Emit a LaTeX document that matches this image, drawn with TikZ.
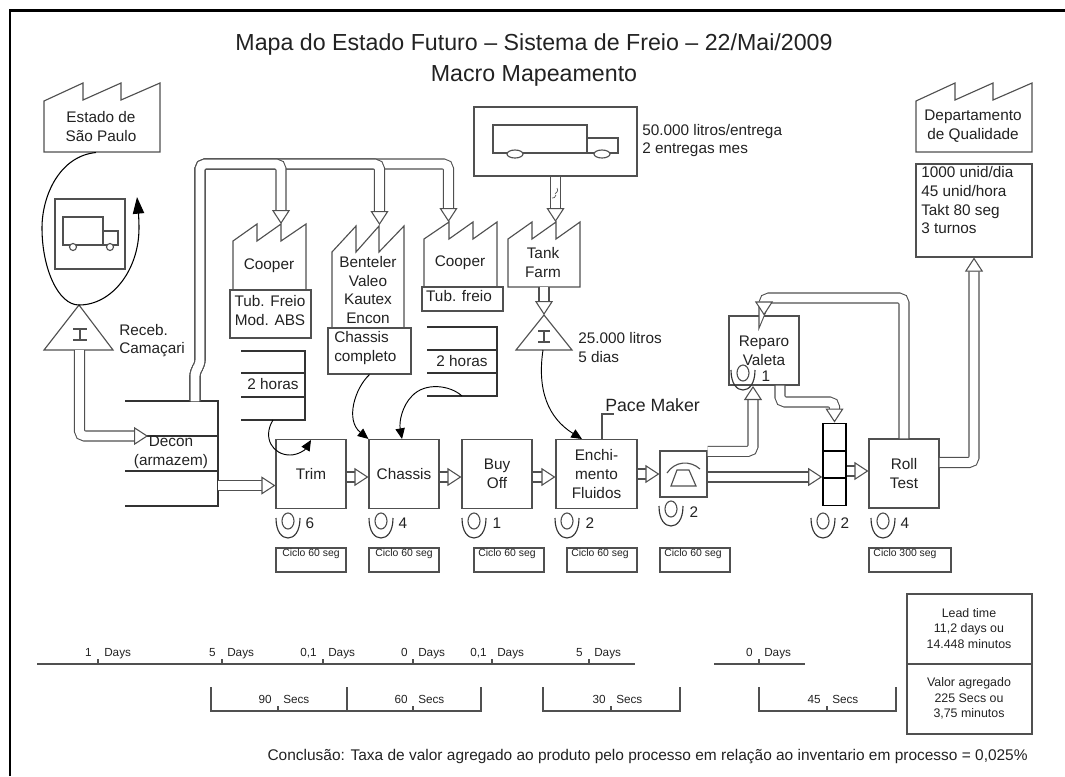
\documentclass[tikz,border=0pt]{standalone}
\usepackage{fontspec}
\setmainfont{Liberation Sans}
\usetikzlibrary{arrows.meta, calc}
\definecolor{linecol}{HTML}{505050}
\definecolor{textcol}{HTML}{222222}
\tikzset{
    shape line/.style={draw=linecol, line width=0.85pt},
    plant/.style={shape line, fill=white},
    label text/.style={font=\fontsize{11.5}{14}\selectfont, text=textcol, align=center, inner sep=0pt},
    left text/.style={label text, align=left},
    procbox/.style={shape line, fill=white, label text, minimum height=51.75pt},
    ciclobox/.style={shape line, fill=white, minimum height=18pt, inner sep=0pt},
    ciclotext/.style={font=\fontsize{7.8}{9}\selectfont, text=textcol, inner sep=0pt},
    timetext/.style={font=\fontsize{8.8}{11}\selectfont, text=textcol, inner sep=0pt},
    sumtext/.style={font=\fontsize{9.3}{11.6}\selectfont, text=textcol, inner sep=0pt, align=center},
    stock/.style={draw=black!80, line width=1.1pt},
    timeline/.style={draw=linecol, line width=0.8pt},
    pushline/.style={draw=linecol, line width=0.8pt, double=white, double distance=6.7pt, rounded corners=3.75pt},
    pushhead/.style={pushline, -{Triangle[open, fill=white, length=10.5pt, width=13.5pt]}},
    infoflow/.style={draw=black, line width=0.7pt, -{Triangle[length=8pt, width=7pt]}},
    operator/.pic={
        \draw[shape line] (0,-1) ellipse [x radius=6, y radius=8];
        \draw[shape line, draw=black!80] (-12,-4) .. controls (-12,10) and (-6,16) .. (0,16) .. controls (6,16) and (12,10) .. (12,-4);
    }
}
\begin{document}
\begin{tikzpicture}[x=0.75pt, y=-0.75pt]
    \useasboundingbox (0,0) rectangle (1065,776);
    \draw[black, line width=2.2pt] (10,776) -- (10,10.5) -- (1065,10.5);

    \node[font=\fontsize{17.4}{23}\selectfont, text=textcol, align=center, inner sep=0pt] (title) at (534,60) {Mapa do Estado Futuro – Sistema de Freio – 22/Mai/2009\\Macro Mapeamento};

    % fabricas
    \draw[plant] (44,152) -- (44,101) -- (83,83) -- (83,100) -- (121,83) -- (121,100) -- (160,83) -- (160,152) -- cycle;
    \node[label text] (saopaulo) at (101,126.5) {Estado de\\São Paulo};
    \draw[plant] (233,290) -- (233,241) -- (257,224) -- (257,241) -- (281,224) -- (281,241) -- (306,224) -- (306,290) -- cycle;
    \node[label text] (cooperA) at (269,266) {Cooper};
    \draw[plant] (332,328) -- (332,252) -- (356,226) -- (356,252) -- (379,226) -- (379,252) -- (404,226) -- (404,328) -- cycle;
    \node[label text] (benteler) at (368,290) {Benteler\\Valeo\\Kautex\\Encon};
    \draw[plant] (424,287) -- (424,239) -- (449,222) -- (449,239) -- (473,222) -- (473,239) -- (497,222) -- (497,287) -- cycle;
    \node[label text] (cooperB) at (460,263) {Cooper};
    \draw[plant] (508,287) -- (508,239) -- (532,222) -- (532,239) -- (556,222) -- (556,239) -- (580,222) -- (580,287) -- cycle;
    \node[label text] (tankfarm) at (543,262.5) {Tank\\Farm};
    \draw[plant] (916,152) -- (916,101) -- (955,83) -- (955,100) -- (993,83) -- (993,100) -- (1032,83) -- (1032,152) -- cycle;
    \node[label text] (qualidade) at (973,126.5) {Departamento\\de Qualidade};

    % caixas de dados
    \node[shape line, fill=white, minimum width=60.75pt, minimum height=36pt, inner sep=0pt] (tubfreio) at (270.5,314) {};
    \node[label text] (tubfreiotext) at (270,310.5) {Tub. Freio\\Mod. ABS};
    \node[shape line, fill=white, minimum width=60.75pt, minimum height=18pt, inner sep=0pt] (tubfreiob) at (462.5,299) {};
    \node[label text] (tubfreiobtext) at (459,296) {Tub. freio};
    \node[shape line, fill=white, minimum width=62.25pt, minimum height=34.5pt, inner sep=0pt] (chassiscomp) at (369.5,351) {};
    \node[left text, anchor=west] (chassiscomptext) at (334,348) {Chassis\\completo};
    \node[shape line, fill=white, minimum width=87pt, minimum height=69.75pt, inner sep=0pt] (infobox) at (974,210.5) {};
    \node[left text, anchor=north west] (infotext) at (921,166.5) {1000 unid/dia\\45 unid/hora\\Takt 80 seg\\3 turnos};
    \node[shape line, fill=white, minimum width=93.75pt, minimum height=52.5pt, inner sep=0pt] (leadbox) at (969.5,629) {};
    \node[shape line, fill=white, minimum width=93.75pt, minimum height=52.5pt, inner sep=0pt] (valuebox) at (969.5,699) {};
    \node[sumtext] (leadtext) at (969,628.5) {Lead time\\11,2 days ou\\14.448 minutos};
    \node[sumtext] (valuetext) at (969,698.5) {Valor agregado\\225 Secs ou\\3,75 minutos};

    % caminhoes
    \node[shape line, minimum width=52.5pt, minimum height=52.5pt, inner sep=0pt] (truckboxA) at (90,234) {};
    \draw[shape line] (63,217) rectangle (103,245);
    \draw[shape line] (103,231) rectangle (118,245);
    \draw[shape line, fill=white] (73,247) circle [radius=3.5];
    \draw[shape line, fill=white] (110,247) circle [radius=3.5];
    \node[shape line, minimum width=122.25pt, minimum height=51.75pt, inner sep=0pt] (truckboxB) at (555.5,141.5) {};
    \draw[shape line] (493,125) rectangle (587,153);
    \draw[shape line] (587,138) rectangle (618,153);
    \draw[shape line, fill=white] (515,154) ellipse [x radius=8, y radius=4];
    \draw[shape line, fill=white] (602,154) ellipse [x radius=8, y radius=4];
    \node[left text, anchor=west] (entregatext) at (642,140.5) {50.000 litros/entrega\\2 entregas mes};

    % estoques
    \draw[shape line] (44,350) -- (79,305) -- (113,350) -- cycle;
    \draw[shape line] (73,329) -- (87,329) (80,329) -- (80,340) (73,340) -- (87,340);
    \node[left text, anchor=west] (receb) at (119,340.5) {Receb.\\Camaçari};
    \draw[shape line] (516,350) -- (544,315) -- (572,350) -- cycle;
    \draw[shape line] (538,331) -- (550,331) (544,331) -- (544,342) (538,342) -- (550,342);
    \node[left text, anchor=west] (litros) at (578,347.5) {25.000 litros\\5 dias};
    \coordinate (spbase) at (96,152.5);
    \coordinate (recebtop) at (79,305);
    \coordinate (recebbase) at (79.5,350);
    \coordinate (tankbase) at (543,350);

    \draw[stock] (125,401) -- (218,401) -- (218,506) -- (125,506);
    \draw[stock] (125,436) -- (218,436) (125,471) -- (218,471);
    \node[label text] (decon) at (171,452.5) {Decon\\(armazem)};
    \draw[stock] (241,351) -- (305,351) -- (305,420) -- (241,420);
    \draw[stock] (241,373) -- (305,373) (241,397) -- (305,397);
    \node[label text] (horasA) at (273,384) {2 horas};
    \draw[stock] (427,327) -- (497,327) -- (497,396) -- (427,396);
    \draw[stock] (427,350) -- (497,350) (427,373) -- (497,373);
    \node[label text] (horasB) at (462,361) {2 horas};
    \coordinate (horasAbase) at (273,420);
    \coordinate (horasBbase) at (462,396);
    \coordinate (deconin) at (148,436);
    \coordinate (decontop) at (195,401);
    \coordinate (deconout) at (218,485.5);

    % processos
    \node[procbox, minimum width=52.5pt] (trim) at (311,474) {Trim};
    \node[procbox, minimum width=52.5pt] (chassis) at (404,474) {Chassis};
    \node[procbox, minimum width=52.5pt] (buyoff) at (497,474) {Buy\\Off};
    \node[procbox, minimum width=60.75pt] (enchimento) at (596.5,474) {Enchi-\\mento\\Fluidos};
    \node[shape line, fill=white, minimum width=35.25pt, minimum height=34.5pt, inner sep=0pt] (phone) at (683.5,474) {};
    \draw[shape line] (667,473) .. controls (675,461) and (690,460) .. (700,469);
    \draw[shape line] (671,486) -- (677,470) -- (689,470) -- (696,486) -- cycle;
    \node[procbox, minimum width=52.5pt] (reparo) at (764,350.5) {Reparo\\Valeta};
    \node[procbox, minimum width=52.5pt] (rolltest) at (904,473.5) {Roll\\Test};
    \node[shape line, draw=black, line width=1.2pt, minimum width=17.25pt, minimum height=20.5pt, inner sep=0pt] (kanbanA) at (834.5,437) {};
    \node[shape line, draw=black, line width=1.2pt, minimum width=17.25pt, minimum height=20.5pt, inner sep=0pt] (kanbanB) at (834.5,464.5) {};
    \node[shape line, draw=black, line width=1.2pt, minimum width=17.25pt, minimum height=20.5pt, inner sep=0pt] (kanbanC) at (834.5,492) {};

    % fluxo empurrado
    \draw[pushhead] (recebbase) |- (deconin);
    \draw[pushhead] (decontop) -- (195,371) -- (200,365) |- (448.5,164) -- (448.5,222);
    \draw[pushhead] (decontop) -- (195,371) -- (200,365) |- (379.5,164) -- (379.5,225);
    \draw[pushhead] (decontop) -- (195,371) -- (200,365) |- (281,164) -- (281,224);
    \draw[pushhead] (deconout) -- (trim.west |- deconout);
    \draw[pushhead] ([yshift=-2.25pt]trim.east) -- ([yshift=-2.25pt]chassis.west);
    \draw[pushhead] ([yshift=-2.25pt]chassis.east) -- ([yshift=-2.25pt]buyoff.west);
    \draw[pushhead] ([yshift=-2.25pt]buyoff.east) -- ([yshift=-2.25pt]enchimento.west);
    \draw[pushhead] (enchimento.east) -- (phone.west);
    \draw[pushhead] ([yshift=-2.25pt]phone.east) -- ([yshift=-2.25pt]phone.east -| kanbanB.west);
    \draw[pushhead] ([yshift=17pt]phone.east) -| (753,386);
    \draw[pushhead] ([xshift=12pt]reparo.south) |- (834.5,402) -- (kanbanA.north);
    \draw[pushhead] (kanbanB.east |- 850,471) -- (rolltest.west |- 850,471);
    \draw[pushhead] (rolltest.north) |- (764,298) -- (reparo.north);
    \draw[pushhead] ([yshift=8.25pt]rolltest.east) -| (infobox.south);
    \draw[pushhead] (truckboxB.south) -- (555.5,222);
    \draw[shape line, line width=0.5pt] (557,188) .. controls (559,192) and (556,192) .. (555,194) (556,195) .. controls (555,198) and (554,198) .. (552,198);
    \draw[pushhead] (544,287) -- (544,315);

    % fluxo de informacao
    \draw[draw=black, line width=0.8pt, -{Triangle[length=12.5pt, width=8.5pt]}] (spbase) .. controls (60,156) and (42,195) .. (42,228) .. controls (42,268) and (58,305) .. (recebtop) .. controls (112,305) and (139,270) .. (139,228) .. controls (139,218) and (138,208) .. (137,197);
    \draw[infoflow] (horasAbase) .. controls (262,438) and (273,455) .. (290,455) .. controls (298,455) and (305,450) .. (311,440);
    \draw[infoflow] (chassiscomp.south) .. controls (355,388) and (345,420) .. (chassis.north west);
    \draw[infoflow] (horasBbase) .. controls (450,385) and (425,382) .. (412,396) .. controls (402,406) and (399,422) .. (402,439);
    \draw[infoflow] (tankbase) .. controls (537,390) and (548,418) .. (582,439);

    \draw[shape line] (602,439) -- (602,414) -- (614,414);
    \node[font=\fontsize{13.3}{16}\selectfont, text=textcol, inner sep=0pt, anchor=west] (pacemaker) at (605,405) {Pace Maker};

    % operadores
    \pic at (288,522) {operator};
    \node[label text] (opA) at (310,523) {6};
    \pic at (381,522) {operator};
    \node[label text] (opB) at (403,523) {4};
    \pic at (474,522) {operator};
    \node[label text] (opC) at (497,523) {1};
    \pic at (567,522) {operator};
    \node[label text] (opD) at (590,523) {2};
    \pic at (671,510) {operator};
    \node[label text] (opE) at (694,512) {2};
    \pic at (823,522) {operator};
    \node[label text] (opF) at (845,523) {2};
    \pic at (883,522) {operator};
    \node[label text] (opG) at (905,523) {4};
    \pic at (743,374) {operator};
    \node[label text] (opH) at (766,376) {1};

    % ciclos
    \node[ciclobox, minimum width=52.5pt] (cicloA) at (311,560) {};
    \node[ciclotext] (cicloAt) at (311,554) {Ciclo 60 seg};
    \node[ciclobox, minimum width=52.5pt] (cicloB) at (404,560) {};
    \node[ciclotext] (cicloBt) at (404,554) {Ciclo 60 seg};
    \node[ciclobox, minimum width=52.5pt] (cicloC) at (509,560) {};
    \node[ciclotext] (cicloCt) at (507,554) {Ciclo 60 seg};
    \node[ciclobox, minimum width=52.5pt] (cicloD) at (602,560) {};
    \node[ciclotext] (cicloDt) at (600,554) {Ciclo 60 seg};
    \node[ciclobox, minimum width=52.5pt] (cicloE) at (695,560) {};
    \node[ciclotext] (cicloEt) at (693,554) {Ciclo 60 seg};
    \node[ciclobox, minimum width=61.5pt] (cicloF) at (910,560) {};
    \node[ciclotext] (cicloFt) at (905,554) {Ciclo 300 seg};

    % linha do tempo
    \draw[timeline] (37,664) -- (635,664);
    \draw[timeline] (714,664) -- (805,664);
    \draw[timeline] (98,659) -- (98,664) (222,659) -- (222,664) (323,659) -- (323,664) (413,659) -- (413,664) (492,659) -- (492,664) (589,659) -- (589,664) (759,659) -- (759,664);
    \node[timetext, anchor=base east] (daysAn) at (92,656) {1};
    \node[timetext, anchor=base west] (daysAu) at (104,656) {Days};
    \node[timetext, anchor=base east] (daysBn) at (216,656) {5};
    \node[timetext, anchor=base west] (daysBu) at (227,656) {Days};
    \node[timetext, anchor=base east] (daysCn) at (317,656) {0,1};
    \node[timetext, anchor=base west] (daysCu) at (328,656) {Days};
    \node[timetext, anchor=base east] (daysDn) at (408,656) {0};
    \node[timetext, anchor=base west] (daysDu) at (418,656) {Days};
    \node[timetext, anchor=base east] (daysEn) at (487,656) {0,1};
    \node[timetext, anchor=base west] (daysEu) at (497,656) {Days};
    \node[timetext, anchor=base east] (daysFn) at (583,656) {5};
    \node[timetext, anchor=base west] (daysFu) at (594,656) {Days};
    \node[timetext, anchor=base east] (daysGn) at (753,656) {0};
    \node[timetext, anchor=base west] (daysGu) at (764,656) {Days};

    \draw[timeline] (211,687) -- (211,711) -- (481,711) -- (481,687);
    \draw[timeline] (347,687) -- (347,711);
    \draw[timeline] (543,687) -- (543,711) -- (680,711) -- (680,687);
    \draw[timeline] (759,687) -- (759,711) -- (896,711) -- (896,687);
    \draw[timeline] (278,706) -- (278,711) (413,706) -- (413,711) (611,706) -- (611,711) (827,706) -- (827,711);
    \node[timetext, anchor=base east] (secsAn) at (272,703) {90};
    \node[timetext, anchor=base west] (secsAu) at (283,703) {Secs};
    \node[timetext, anchor=base east] (secsBn) at (408,703) {60};
    \node[timetext, anchor=base west] (secsBu) at (418,703) {Secs};
    \node[timetext, anchor=base east] (secsCn) at (606,703) {30};
    \node[timetext, anchor=base west] (secsCu) at (616,703) {Secs};
    \node[timetext, anchor=base east] (secsDn) at (821,703) {45};
    \node[timetext, anchor=base west] (secsDu) at (832,703) {Secs};

    \node[font=\fontsize{11.6}{14}\selectfont, text=textcol, inner sep=0pt, anchor=east] (conclusao) at (1028,757) {Conclusão: Taxa de valor agregado ao produto pelo processo em relação ao inventario em processo = 0,025\%};
\end{tikzpicture}
\end{document}
